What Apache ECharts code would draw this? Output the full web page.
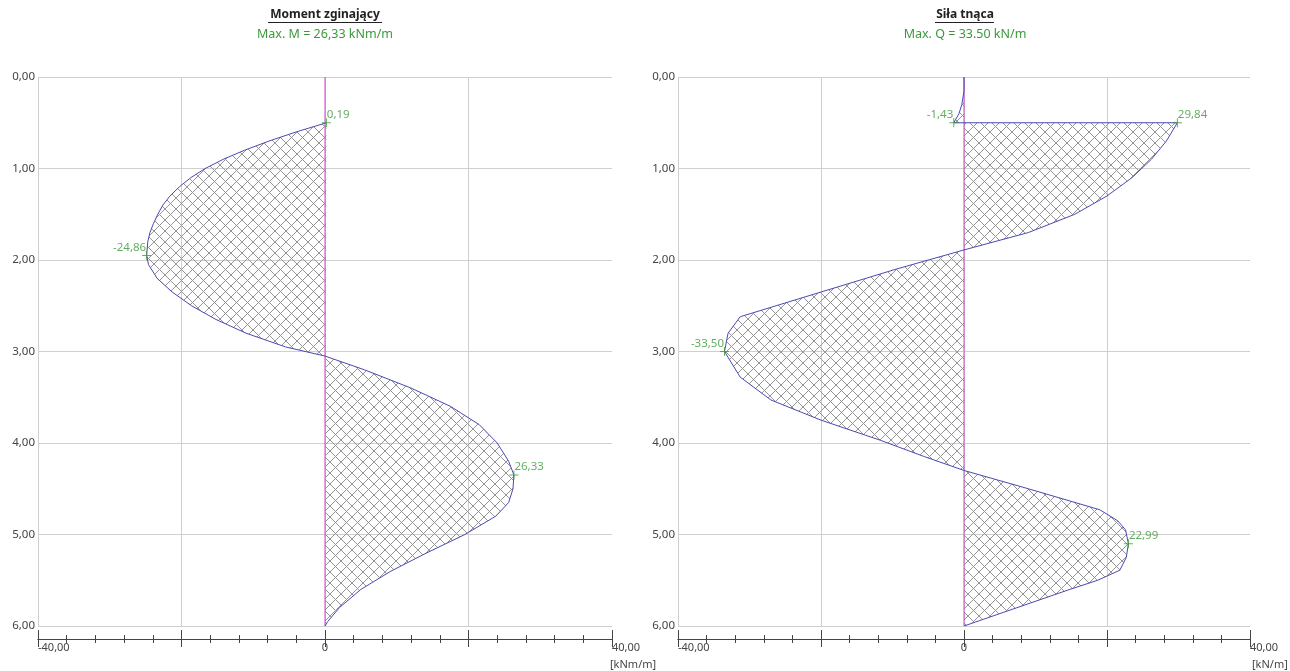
<!DOCTYPE html>
<html>
<head>
<meta charset="utf-8">
<script src="https://cdn.jsdelivr.net/npm/echarts@6/dist/echarts.min.js"></script>
<style>
html,body{margin:0;padding:0;background:#fff}
#chart{width:1290px;height:671px}
</style>
</head>
<body>
<div id="chart"></div>
<script>
// bending moment [kNm/m] along depth [m]
var momentDepth = [0.5, 0.6, 0.7, 0.8, 0.9, 1.0, 1.1, 1.2, 1.3, 1.4, 1.5, 1.6, 1.7, 1.8, 1.95, 2.05, 2.2, 2.35, 2.5, 2.65, 2.8, 2.95, 3.05,
                   3.2, 3.4, 3.6, 3.8, 4.0, 4.2, 4.35, 4.5, 4.65, 4.8, 5.0, 5.2, 5.4, 5.6, 5.8, 5.95, 6.0];
var momentValue = [0.19, -4.0, -7.8, -11.2, -14.2, -16.7, -18.7, -20.3, -21.6, -22.6, -23.3, -23.9, -24.4, -24.7, -24.86, -24.6, -23.4, -21.3, -18.6, -15.2, -11.0, -5.5, 0,
                   5.5, 12.0, 17.5, 21.5, 24.0, 25.6, 26.33, 26.2, 25.6, 23.8, 19.5, 14.2, 9.2, 5.0, 2.0, 0.4, 0];
// shear force [kN/m] along depth [m]
var shearDepth = [0, 0.15, 0.3, 0.4, 0.5, 0.5, 0.7, 0.9, 1.1, 1.3, 1.5, 1.7, 1.89, 2.1, 2.35, 2.62, 2.8, 3.0, 3.28, 3.53, 3.75, 3.97, 4.15, 4.3,
                  4.5, 4.73, 4.85, 4.95, 5.1, 5.25, 5.39, 5.5, 5.6, 5.8, 6.0];
var shearValue = [0, 0, -0.3, -0.7, -1.43, 29.84, 28.3, 26.2, 23.5, 20.0, 15.5, 9.0, 0, -9.5, -20.0, -31.3, -33.0, -33.5, -31.3, -27.0, -20.0, -11.7, -5.5, 0,
                  9.0, 19.0, 21.5, 22.6, 22.99, 22.7, 21.8, 18.7, 14.8, 7.4, 0];
// labelled extreme values
var momentMarkDepth = [0.5, 1.95, 4.35];
var momentMarkValue = [0.19, -24.86, 26.33];
var shearMarkDepth = [0.5, 0.5, 3.0, 5.1];
var shearMarkValue = [-1.43, 29.84, -33.50, 22.99];

var valueMin = -40, valueMax = 40, valueStep = 20;
var depthMin = 0, depthMax = 6, depthStep = 1;

var FONT = '"Noto Sans", "DejaVu Sans", sans-serif';
var GREEN = '#3a9a3a';

function fmt(v) { return v.toFixed(2).replace('.', ','); }

function hatchCanvas(s) {
    var c = document.createElement('canvas');
    c.width = s; c.height = s;
    var g = c.getContext('2d');
    g.strokeStyle = '#959595';
    g.lineWidth = 1;
    g.beginPath();
    for (var k = -s; k <= s; k += s) {
        g.moveTo(k, 0); g.lineTo(k + s, s);
        g.moveTo(k + s, 0); g.lineTo(k, s);
    }
    g.stroke();
    return c;
}
var hatch = hatchCanvas(11);

var grids = [
    {left: 38, top: 77, width: 574, height: 549},
    {left: 678, top: 77, width: 572, height: 549}
];

function xAxes(gi) {
    var base = {gridIndex: gi, type: 'value', min: valueMin, max: valueMax, interval: valueStep};
    var main = Object.assign({}, base, {
        axisLine: {show: false}, axisTick: {show: false}, axisLabel: {show: false},
        splitLine: {show: true, lineStyle: {color: ['#cfcfcf', '#cfcfcf', '#cfcfcf', '#cfcfcf', 'rgba(0,0,0,0)'], width: 1}}
    });
    var outer = Object.assign({}, base, {
        position: 'bottom', offset: 13,
        axisLine: {show: true, onZero: false, lineStyle: {color: '#444', width: 1}},
        axisTick: {show: true, inside: false, length: 8, lineStyle: {color: '#444'}},
        minorTick: {show: true, splitNumber: 5, length: 4, lineStyle: {color: '#444'}},
        splitLine: {show: false},
        axisLabel: {
            show: true, margin: 3, fontSize: 11, fontFamily: FONT, color: '#444',
            alignMinLabel: 'left', alignMaxLabel: 'left',
            formatter: function (v) { return v === 0 ? '0' : (Math.abs(v) === valueMax ? fmt(v) : ''); }
        }
    });
    var inner = Object.assign({}, base, {
        position: 'bottom', offset: 13,
        axisLine: {show: true, onZero: false, lineStyle: {color: '#444', width: 1}},
        axisTick: {show: true, inside: true, length: 9, lineStyle: {color: '#444'}},
        minorTick: {show: true, splitNumber: 5, length: 4, lineStyle: {color: '#444'}},
        splitLine: {show: false},
        axisLabel: {show: false}
    });
    return [main, outer, inner];
}

function yAxis(gi) {
    return {
        gridIndex: gi, type: 'value', inverse: true, min: depthMin, max: depthMax, interval: depthStep,
        axisLine: {show: false}, axisTick: {show: false},
        axisLabel: {margin: 3, fontSize: 11.5, fontFamily: FONT, color: '#444', formatter: fmt},
        splitLine: {show: true, lineStyle: {color: '#cfcfcf', width: 1}}
    };
}

function seriesFor(gi, vals, depths, markVals, markDepths) {
    var xi = gi * 3;
    return [
        {
            type: 'custom', xAxisIndex: xi, yAxisIndex: gi, data: [0], silent: true, z: 1,
            renderItem: function (params, api) {
                var pts = vals.map(function (v, i) { return api.coord([v, depths[i]]); });
                return {type: 'polygon', shape: {points: pts}, style: {fill: {image: hatch, repeat: 'repeat'}, stroke: null}};
            }
        },
        {
            // beam axis (zero line)
            type: 'line', xAxisIndex: xi, yAxisIndex: gi, z: 3, silent: true, symbol: 'none',
            data: [[0, depthMin], [0, depthMax]],
            lineStyle: {color: '#c84ac8', width: 1}
        },
        {
            type: 'line', xAxisIndex: xi, yAxisIndex: gi, z: 4, silent: true,
            symbol: 'none', smooth: false,
            data: vals.map(function (v, i) { return [v, depths[i]]; }),
            lineStyle: {color: '#4a4ab4', width: 1}
        },
        {
            type: 'scatter', xAxisIndex: xi, yAxisIndex: gi, z: 6, silent: true,
            symbol: 'path://M4,0h1v4h4v1h-4v4h-1v-4h-4v-1h4z', symbolSize: 9,
            itemStyle: {color: GREEN},
            data: markVals.map(function (v, i) {
                var left = v < 0;
                return {value: [v, markDepths[i]], label: {position: left ? 'left' : 'right', offset: [left ? 4 : -4, -8]}};
            }),
            label: {show: true, distance: 0, color: GREEN, fontSize: 11.5, fontFamily: FONT,
                formatter: function (p) { return fmt(p.value[0]); }}
        }
    ];
}

var chart = echarts.init(document.getElementById('chart'));
chart.setOption({
    animation: false,
    backgroundColor: '#fff',
    grid: grids,
    xAxis: xAxes(0).concat(xAxes(1)),
    yAxis: [yAxis(0), yAxis(1)],
    series: seriesFor(0, momentValue, momentDepth, momentMarkValue, momentMarkDepth)
        .concat(seriesFor(1, shearValue, shearDepth, shearMarkValue, shearMarkDepth)),
    graphic: [
        {type: 'text', x: 325, y: 15, style: {text: 'Moment zginający', font: 'bold 12px ' + FONT, fill: '#222', align: 'center', verticalAlign: 'middle'}},
        {type: 'line', shape: {x1: 268, y1: 22.5, x2: 382, y2: 22.5}, style: {stroke: '#222', lineWidth: 1}},
        {type: 'text', x: 325, y: 34, style: {text: 'Max. M = 26,33 kNm/m', font: '12.5px ' + FONT, fill: GREEN, align: 'center', verticalAlign: 'middle'}},
        {type: 'text', x: 965, y: 15, style: {text: 'Siła tnąca', font: 'bold 12px ' + FONT, fill: '#222', align: 'center', verticalAlign: 'middle'}},
        {type: 'line', shape: {x1: 935, y1: 22.5, x2: 994, y2: 22.5}, style: {stroke: '#222', lineWidth: 1}},
        {type: 'text', x: 965, y: 34, style: {text: 'Max. Q = 33.50 kN/m', font: '12.5px ' + FONT, fill: GREEN, align: 'center', verticalAlign: 'middle'}},
        {type: 'text', x: 610, y: 665, style: {text: '[kNm/m]', font: '11px ' + FONT, fill: '#444', verticalAlign: 'middle'}},
        {type: 'text', x: 1252, y: 665, style: {text: '[kN/m]', font: '11px ' + FONT, fill: '#444', verticalAlign: 'middle'}}
    ]
});
</script>
</body>
</html>
